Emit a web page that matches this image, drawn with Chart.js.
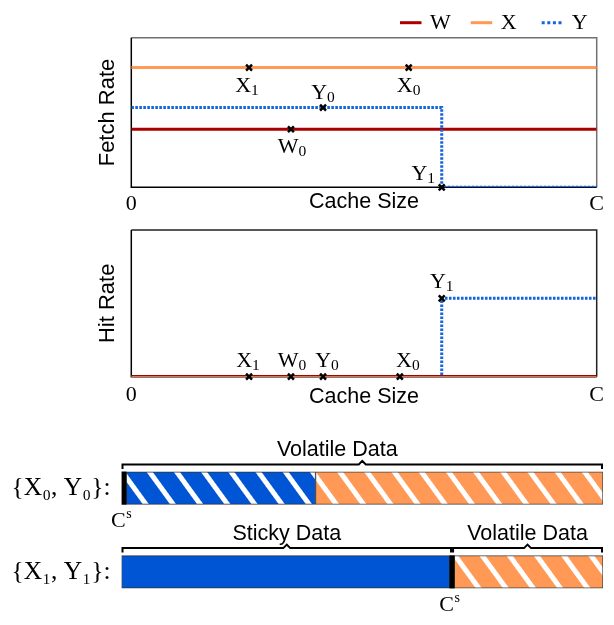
<!DOCTYPE html>
<html><head><meta charset="utf-8">
<script src="https://cdn.jsdelivr.net/npm/chart.js@4.4.1/dist/chart.umd.min.js"></script>
<style>
html,body{margin:0;padding:0;background:#fff;overflow:hidden;width:614px;height:625px;position:relative;}
canvas{position:absolute;left:0;}
#fetch{top:0px} #hit{top:220px} #bars{top:420px}
</style></head><body>
<canvas id="fetch" width="614" height="220"></canvas>
<canvas id="hit" width="614" height="200"></canvas>
<canvas id="bars" width="614" height="220"></canvas>
<script>
// ---------------- data ----------------
const cacheTickValues = [0, 100];
const cacheTickLabels = ['0', 'C'];
const seriesNames = ['W', 'X', 'Y'];

// Fetch Rate panel
const fetchW = [{x: 0, y: 0.388}, {x: 100, y: 0.388}];
const fetchX = [{x: 0, y: 0.80}, {x: 100, y: 0.80}];
const fetchY = [{x: 0, y: 0.533}, {x: 66.7, y: 0.533}, {x: 66.7, y: 0}, {x: 100, y: 0}];
const fetchMarks = [
  {x: 25.3, y: 0.80, t: 'X', s: '1'},
  {x: 59.6, y: 0.80, t: 'X', s: '0'},
  {x: 41.2, y: 0.533, t: 'Y', s: '0'},
  {x: 34.3, y: 0.388, t: 'W', s: '0'},
  {x: 66.7, y: 0, t: 'Y', s: '1'}
];

// Hit Rate panel
const hitW = [{x: 0, y: 0}, {x: 100, y: 0}];
const hitX = [{x: 0, y: 0}, {x: 100, y: 0}];
const hitY = [{x: 0, y: 0}, {x: 66.7, y: 0}, {x: 66.7, y: 0.534}, {x: 100, y: 0.534}];
const hitMarks = [
  {x: 25.3, y: 0, t: 'X', s: '1'},
  {x: 34.3, y: 0, t: 'W', s: '0'},
  {x: 41.2, y: 0, t: 'Y', s: '0'},
  {x: 57.7, y: 0, t: 'X', s: '0'},
  {x: 66.7, y: 0.534, t: 'Y', s: '1'}
];

// Cache layout rows
const rowLabels = ['{X\u2080, Y\u2080}:', '{X\u2081, Y\u2081}:'];
const staticPart = [[0, 0.95], [68.2, 69.1]];
const volatileBluePart = [[0.95, 40.3], null];
const stickyBluePart = [null, [0, 68.2]];
const volatileOrangePart = [[40.3, 100], [69.1, 100]];
const braceRows = [0, 1, 1];
const braceFrom = [0, 0, 68.65];
const braceTo = [100, 68.65, 100];
const braceLabels = ['Volatile Data', 'Sticky Data', 'Volatile Data'];

// ---------------- styles ----------------
const SERIF = '"Liberation Serif", "DejaVu Serif", serif';
const SANS = '"Liberation Sans", Arial, sans-serif';
const RED = '#aa0000', ORANGE = '#ff9955', BLUE = '#1464dc', BARBLUE = '#0055d4';
const fetchLabelOffsets = [[-2, 24], [0, 24], [0, -9], [1, 24], [-18.5, -7]];
const hitLabelOffsets = [[-1, -10], [1, -10], [4, -10], [8, -10], [0, -10]];
const legendX = [400, 470.7, 541.7];

function drawSub(ctx, main, sub, cx, base, size, subSize, drop) {
  ctx.font = size + 'px ' + SERIF;
  const w1 = ctx.measureText(main).width;
  ctx.font = subSize + 'px ' + SERIF;
  const w2 = ctx.measureText(sub).width;
  const x0 = cx - (w1 + w2) / 2;
  ctx.fillStyle = '#000';
  ctx.textAlign = 'left';
  ctx.textBaseline = 'alphabetic';
  ctx.font = size + 'px ' + SERIF;
  ctx.fillText(main, x0, base);
  ctx.font = subSize + 'px ' + SERIF;
  ctx.fillText(sub, x0 + w1, base + drop);
}

const framePlugin = {
  id: 'frame',
  beforeDatasetsDraw(chart, args, o) {
    const {ctx, chartArea: {left, right, top, bottom}} = chart;
    ctx.save();
    ctx.lineWidth = 1.5;
    ctx.strokeStyle = o.far;
    ctx.beginPath(); ctx.moveTo(left, top); ctx.lineTo(right, top); ctx.lineTo(right, bottom); ctx.stroke();
    ctx.strokeStyle = o.near;
    ctx.beginPath(); ctx.moveTo(left, top); ctx.lineTo(left, bottom); ctx.lineTo(right, bottom); ctx.stroke();
    ctx.restore();
  }
};

const markLabelPlugin = {
  id: 'marklabels',
  afterDatasetsDraw(chart, args, o) {
    const ctx = chart.ctx, xs = chart.scales.x, ys = chart.scales.y;
    ctx.save();
    o.points.forEach((p, i) => {
      const px = xs.getPixelForValue(p.x), py = ys.getPixelForValue(p.y);
      drawSub(ctx, p.t, p.s, px + o.offsets[i][0], py + o.offsets[i][1], 22, 15.5, 3);
    });
    ctx.restore();
  }
};

const legendPlugin = {
  id: 'customLegend',
  afterDraw(chart, args, o) {
    if (!o.show) return;
    const ctx = chart.ctx;
    ctx.save();
    chart.data.datasets.slice(0, 3).forEach((ds, i) => {
      const x = legendX[i];
      ctx.strokeStyle = ds.borderColor;
      ctx.lineWidth = 3;
      ctx.setLineDash(ds.borderDash && ds.borderDash.length ? [3, 2.6] : []);
      ctx.beginPath(); ctx.moveTo(x, 22.7); ctx.lineTo(x + 21.5, 22.7); ctx.stroke();
      ctx.setLineDash([]);
      ctx.fillStyle = '#000';
      ctx.font = '22px ' + SERIF;
      ctx.textAlign = 'left';
      ctx.textBaseline = 'alphabetic';
      ctx.fillText(ds.label, x + 30, 28.5);
    });
    ctx.restore();
  }
};

function lineChart(id, w, x, y, marks, offsets, yTitle, opts) {
  return new Chart(document.getElementById(id), {
    type: 'line',
    data: {
      datasets: [
        {label: seriesNames[0], data: w, borderColor: RED, backgroundColor: RED, borderWidth: opts.wWidth, pointRadius: 0, order: opts.wOrder},
        {label: seriesNames[1], data: x, borderColor: ORANGE, backgroundColor: ORANGE, borderWidth: opts.xWidth, pointRadius: 0, order: opts.xOrder},
        {label: seriesNames[2], data: y, borderColor: BLUE, backgroundColor: BLUE, borderWidth: 3, borderDash: [2.6, 1.4], borderCapStyle: 'butt', pointRadius: 0, order: opts.yOrder},
        {label: 'points', type: 'scatter', data: marks, showLine: false, clip: false, pointStyle: 'crossRot', pointRadius: 4.2, pointBorderWidth: 2.5, pointBorderColor: '#000', pointBackgroundColor: '#000', order: -1}
      ]
    },
    options: {
      responsive: false, animation: false, devicePixelRatio: 1,
      layout: {padding: {top: opts.top, right: 17.3, bottom: 0, left: 0}},
      plugins: {
        legend: {display: false}, tooltip: {enabled: false},
        frame: {near: '#000', far: opts.far},
        marklabels: {points: marks, offsets: offsets},
        customLegend: {show: opts.legend}
      },
      scales: {
        x: {
          type: 'linear', min: 0, max: 100,
          grid: {display: false, drawTicks: false}, border: {display: false},
          afterBuildTicks: s => { s.ticks = cacheTickValues.map(v => ({value: v})); },
          ticks: {color: '#000', font: {family: SERIF, size: 22}, padding: opts.tickPad, maxRotation: 0, autoSkip: false,
            callback: v => cacheTickLabels[cacheTickValues.indexOf(v)]},
          title: {display: true, text: 'Cache Size', color: '#000', font: {family: SANS, size: 21.5}, padding: {top: 0, bottom: opts.titlePad}},
          afterFit: s => { s.height = opts.xHeight; }
        },
        y: {
          type: 'linear', min: 0, max: 1,
          grid: {display: false, drawTicks: false}, border: {display: false},
          ticks: {display: false},
          title: {display: true, text: yTitle, color: '#000', font: {family: SANS, size: 22}, padding: {top: 94.8, bottom: 0}},
          afterFit: s => { s.width = 131.3; }
        }
      }
    },
    plugins: [framePlugin, markLabelPlugin, legendPlugin]
  });
}

lineChart('fetch', fetchW, fetchX, fetchY, fetchMarks, fetchLabelOffsets, 'Fetch Rate',
  {top: 37.7, xHeight: 32.7, tickPad: 3.5, titlePad: 5.1, far: '#707070', legend: true, wWidth: 3, xWidth: 3, wOrder: 3, xOrder: 2, yOrder: 1});
lineChart('hit', hitW, hitX, hitY, hitMarks, hitLabelOffsets, 'Hit Rate',
  {top: 10, xHeight: 43.3, tickPad: 5.1, titlePad: 10.4, far: '#222', legend: false, wWidth: 3.2, xWidth: 1.6, wOrder: 2, xOrder: 1, yOrder: 3});

// ---------------- bars ----------------
const barCanvas = document.getElementById('bars');
function hatch(bg) {
  const c = document.createElement('canvas'); c.width = 22; c.height = 22;
  const g = c.getContext('2d');
  g.fillStyle = bg; g.fillRect(0, 0, 22, 22);
  g.fillStyle = '#ffffff'; g.fillRect(0, 0, 5, 22);
  const p = barCanvas.getContext('2d').createPattern(c, 'repeat');
  p.setTransform(new DOMMatrix().rotate(-36));
  return p;
}

const bracePlugin = {
  id: 'braces',
  afterDatasetsDraw(chart) {
    const ctx = chart.ctx, xs = chart.scales.x;
    const meta = chart.getDatasetMeta(0);
    ctx.save();
    ctx.strokeStyle = '#000'; ctx.lineWidth = 2; ctx.fillStyle = '#000';
    braceRows.forEach((r, i) => {
      const bar = meta.data[r];
      const yb = bar.y - bar.height / 2 - 7.5;
      const x0 = xs.getPixelForValue(braceFrom[i]), x1 = xs.getPixelForValue(braceTo[i]);
      const xm = (x0 + x1) / 2;
      ctx.beginPath();
      ctx.moveTo(x0 + 1, yb + 4.5); ctx.lineTo(x0 + 1, yb); ctx.lineTo(xm - 3.5, yb);
      ctx.lineTo(xm, yb - 3.5); ctx.lineTo(xm + 3.5, yb); ctx.lineTo(x1 - 1, yb); ctx.lineTo(x1 - 1, yb + 4.5);
      ctx.stroke();
      ctx.font = '21.5px ' + SANS; ctx.textAlign = 'center'; ctx.textBaseline = 'alphabetic';
      ctx.fillText(braceLabels[i], xm + (i === 0 ? -25 : 0), yb - 8);
    });
    staticPart.forEach((seg, r) => {
      const bar = meta.data[r];
      const xc = (xs.getPixelForValue(seg[0]) + xs.getPixelForValue(seg[1])) / 2;
      const base = bar.y + bar.height / 2 + 22.5;
      ctx.font = '22px ' + SERIF; ctx.textAlign = 'left'; ctx.textBaseline = 'alphabetic';
      const x0 = xc - 12.7;
      ctx.fillText('C', x0, base);
      const w = ctx.measureText('C').width;
      ctx.font = '14px ' + SERIF;
      ctx.fillText('s', x0 + w + 0.5, base - 9);
    });
    ctx.restore();
  }
};

new Chart(barCanvas, {
  type: 'bar',
  data: {
    labels: rowLabels,
    datasets: [
      {label: 'Static', data: staticPart, backgroundColor: '#000', borderWidth: 0, order: 0},
      {label: 'Volatile (Y)', data: volatileBluePart, backgroundColor: hatch(BARBLUE), borderColor: '#333', borderWidth: 1, borderSkipped: false, order: 2},
      {label: 'Sticky (Y)', data: stickyBluePart, backgroundColor: BARBLUE, borderColor: '#333', borderWidth: 1, borderSkipped: false, order: 2},
      {label: 'Volatile (X)', data: volatileOrangePart, backgroundColor: hatch('#ff9955'), borderColor: '#444', borderWidth: 1, borderSkipped: false, order: 1}
    ]
  },
  options: {
    indexAxis: 'y',
    responsive: false, animation: false, devicePixelRatio: 1,
    layout: {padding: {top: 17.5, right: 11, bottom: 5.9, left: 0}},
    datasets: {bar: {grouped: false, barThickness: 32.5}},
    plugins: {legend: {display: false}, tooltip: {enabled: false}},
    scales: {
      x: {type: 'linear', min: 0, max: 100, display: false},
      y: {
        type: 'category',
        grid: {display: false, drawTicks: false}, border: {display: false},
        ticks: {color: '#000', font: {family: SERIF, size: 25.5}, padding: 11},
        afterFit: s => { s.width = 121.5; }
      }
    }
  },
  plugins: [bracePlugin]
});
</script>
</body></html>
